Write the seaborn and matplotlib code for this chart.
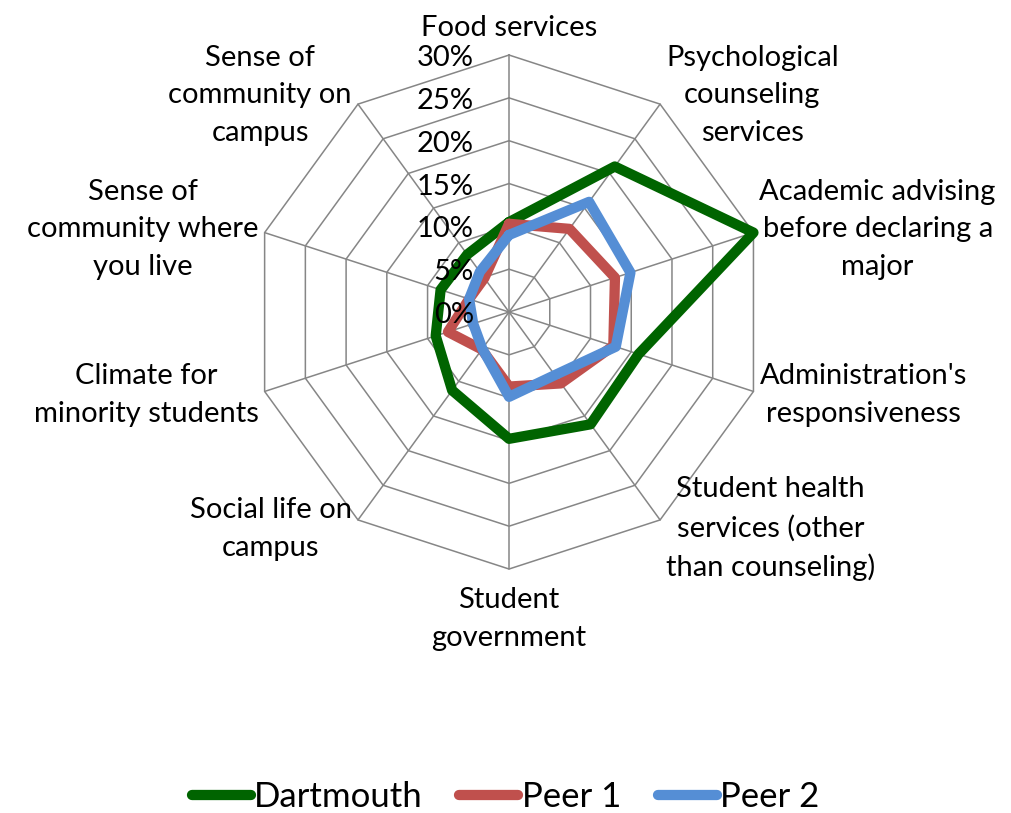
import numpy as np
import pandas as pd
import seaborn as sns
import matplotlib.pyplot as plt


sns.set_theme(style='white')
plt.rcParams['font.family'] = ['Lato', 'DejaVu Sans']

categories = [
    'Food services',
    'Psychological\ncounseling\nservices',
    'Academic advising\nbefore declaring a\nmajor',
    "Administration's\nresponsiveness",
    'Student health\nservices (other\nthan counseling)',
    'Student\ngovernment',
    'Social life on\ncampus',
    'Climate for\nminority students',
    'Sense of\ncommunity where\nyou live',
    'Sense of\ncommunity on\ncampus',
]
dartmouth = [10.5, 21.0, 30.0, 15.9, 16.2, 14.8, 11.3, 9.0, 8.4, 8.3]
peer1 = [10.3, 12.0, 13.0, 12.8, 10.3, 8.7, 5.4, 7.5, 4.9, 4.9]
peer2 = [9.0, 15.9, 14.9, 13.1, 9.1, 9.9, 5.3, 4.4, 4.9, 5.8]
series_names = ['Dartmouth', 'Peer 1', 'Peer 2']
ticks = [0, 5, 10, 15, 20, 25, 30]

colors = {'Dartmouth': '#006400', 'Peer 1': '#C0504D', 'Peer 2': '#558ED5'}
grid_color = '#868686'

n = len(categories)
theta = np.arange(n) * 2 * np.pi / n
theta_closed = np.append(theta, 2 * np.pi)

# long-form table, each polygon closed by repeating its first point
rows = []
for name, vals in zip(series_names, [dartmouth, peer1, peer2]):
    for th, v in zip(theta_closed, vals + vals[:1]):
        rows.append({'theta': th, 'value': v, 'school': name})
df = pd.DataFrame(rows)

fig = plt.figure(figsize=(10.11, 8.13), dpi=100)
ax = fig.add_axes([0.2493, 0.3001, 0.5084, 0.6322], projection='polar')
ax.set_theta_offset(np.pi / 2)
ax.set_theta_direction(-1)
ax.set_ylim(0, ticks[-1])
ax.grid(False)
ax.set_xticks([])
ax.set_yticks([])
ax.spines['polar'].set_visible(False)
ax.set_facecolor('none')

# polygon grid
for t in ticks[1:]:
    ax.plot(theta_closed, [t] * (n + 1), color=grid_color, lw=1.1, clip_on=False, zorder=1)
for th in theta:
    ax.plot([th, th], [0, ticks[-1]], color=grid_color, lw=1.1, clip_on=False, zorder=1)

lw = 7.4
sns.lineplot(data=df, x='theta', y='value', hue='school', hue_order=series_names,
             palette=colors, sort=False, estimator=None, linewidth=lw, ax=ax,
             zorder=3, clip_on=False)
for line in ax.get_lines()[-3:]:
    line.set_solid_joinstyle('miter')
    line.set_solid_capstyle('round')

handles, labels = ax.get_legend_handles_labels()
ax.get_legend().remove()
for h in handles:
    h.set_linewidth(lw)
    h.set_solid_capstyle('round')
ax.set_xlabel('')
ax.set_ylabel('')

# radial tick labels
for t in ticks:
    ax.annotate(f'{t}%', xy=(0, t), xytext=(-35, -3), textcoords='offset pixels',
                ha='right', va='center', fontsize=21, color='black')

# category labels
for th, lab in zip(theta, categories):
    s, c = np.sin(th), np.cos(th)
    if abs(s) < 0.1:
        ha = 'center'
        va = 'bottom' if c > 0 else 'top'
        dx, dy = 0, (14 if c > 0 else -18)
    else:
        ha = 'left' if s > 0 else 'right'
        va = 'center'
        dx, dy = (6 if s > 0 else -6), 11 * c
    ax.annotate(lab, xy=(th, ticks[-1]), xytext=(dx, dy), textcoords='offset pixels',
                ha=ha, va=va, multialignment='center', fontsize=21,
                linespacing=1.55, color='black', annotation_clip=False)

fig.legend(handles, labels, loc='center', bbox_to_anchor=(0.5, 0.02), ncol=3,
           frameon=False, fontsize=25, handlelength=1.7, handletextpad=0.1,
           columnspacing=1.05, labelcolor='black')

fig.savefig('out.png', dpi=100, facecolor='white')
